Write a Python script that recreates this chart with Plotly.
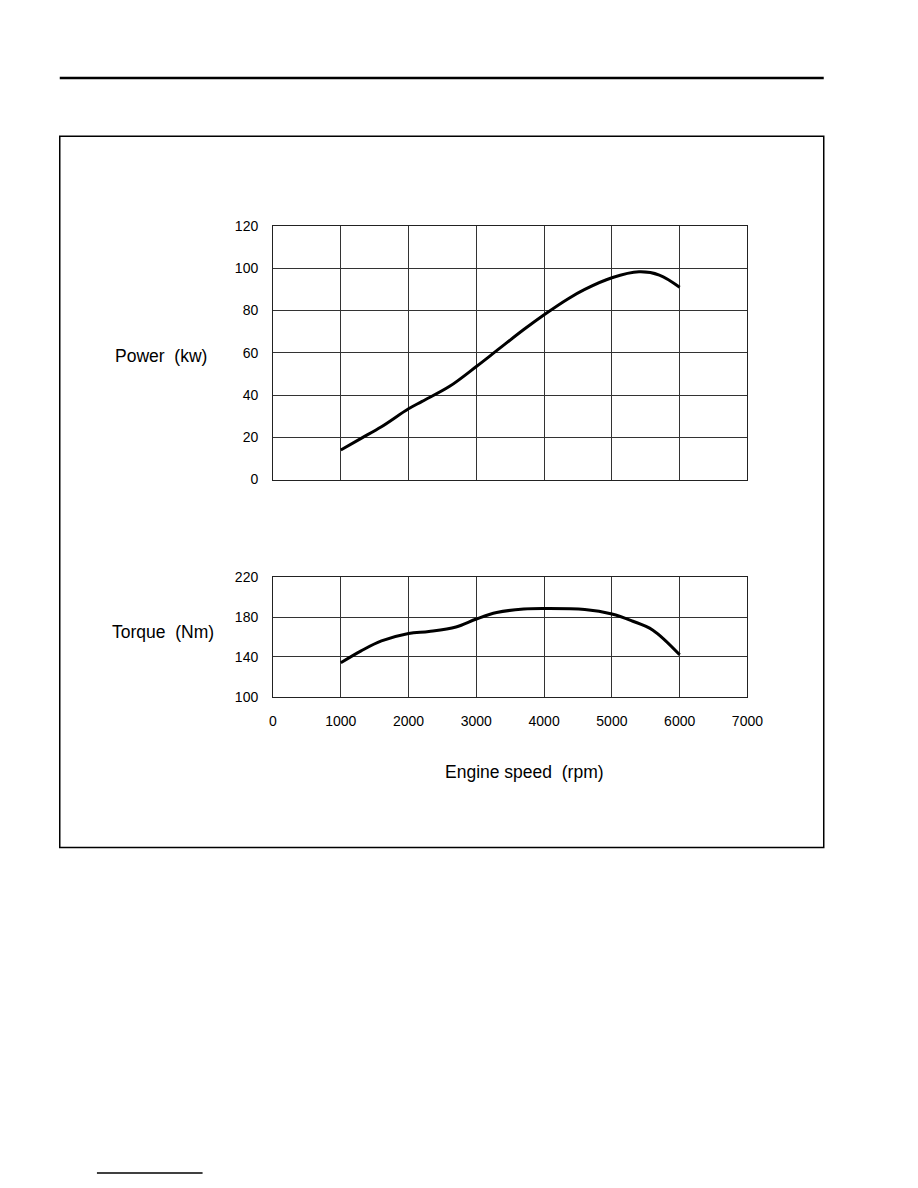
import plotly.graph_objects as go

# engine speed (rpm) and curves
power_rpm = [1000, 1300, 1600, 2000, 2200, 2600, 3000, 3300, 3700, 4000, 4350, 4600, 5000, 5400, 5700, 6000]
power_kw = [14, 19.5, 25, 33.5, 37, 44, 53.5, 61, 71, 78, 85.5, 90, 95.5, 98.3, 96.8, 91]

torque_rpm = [1000, 1300, 1600, 2000, 2300, 2700, 3000, 3300, 3700, 4000, 4600, 5000, 5300, 5600, 6000]
torque_nm = [134, 146, 156, 163.5, 165.5, 170, 178, 184.5, 188, 188.5, 187.5, 183, 176, 167, 142]

x_ticks = [0, 1000, 2000, 3000, 4000, 5000, 6000, 7000]
power_ticks = [0, 20, 40, 60, 80, 100, 120]
torque_ticks = [100, 140, 180, 220]

W, H = 918, 1188


def px(x):
    return x / W


def py(y):
    return 1 - y / H


tick_font = dict(family="Liberation Sans, Arial, sans-serif", size=14, color="black")
label_font = dict(family="Liberation Sans, Arial, sans-serif", size=17.5, color="black")

fig = go.Figure()
fig.add_trace(go.Scatter(x=power_rpm, y=power_kw, mode="lines", line=dict(color="black", width=3, shape="spline"),
                         xaxis="x", yaxis="y", showlegend=False))
fig.add_trace(go.Scatter(x=torque_rpm, y=torque_nm, mode="lines", line=dict(color="black", width=3, shape="spline"),
                         xaxis="x2", yaxis="y2", showlegend=False))

axis_common = dict(showline=True, mirror=True, linecolor="#222", linewidth=1,
                   showgrid=True, gridcolor="#333", gridwidth=1, zeroline=False,
                   ticks="", tickfont=tick_font)

fig.update_layout(
    width=W, height=H,
    margin=dict(l=0, r=0, t=0, b=0),
    paper_bgcolor="white", plot_bgcolor="white",
    xaxis=dict(domain=[px(275), px(760)], range=[0, 7000], tickvals=x_ticks[1:-1],
               showticklabels=False, anchor="y", **axis_common),
    yaxis=dict(domain=[py(478), py(221)], range=[0, 120], tickvals=power_ticks,
               anchor="x", ticklabelstandoff=11, **axis_common),
    xaxis2=dict(domain=[px(275), px(760)], range=[0, 7000], tickvals=x_ticks,
                anchor="y2", ticklabelstandoff=12, **axis_common),
    yaxis2=dict(domain=[py(698), py(577)], range=[100, 220], tickvals=torque_ticks,
                anchor="x2", ticklabelstandoff=11, **axis_common),
)

fig.add_annotation(text="Power  (kw)", x=px(161), y=py(353), xref="paper", yref="paper",
                   xanchor="center", yanchor="middle", showarrow=False, font=label_font)
fig.add_annotation(text="Torque  (Nm)", x=px(163), y=py(633), xref="paper", yref="paper",
                   xanchor="center", yanchor="middle", showarrow=False, font=label_font)
fig.add_annotation(text="Engine speed  (rpm)", x=px(532), y=py(774), xref="paper", yref="paper",
                   xanchor="center", yanchor="middle", showarrow=False, font=label_font)

# page decorations: header rule, frame, footer rule
fig.add_shape(type="line", xref="paper", yref="paper", x0=px(57), x1=px(838), y0=py(71), y1=py(71),
              line=dict(color="black", width=2.5))
fig.add_shape(type="rect", xref="paper", yref="paper", x0=px(57), x1=px(838), y0=py(851), y1=py(130),
              line=dict(color="black", width=1.5))
fig.add_shape(type="line", xref="paper", yref="paper", x0=px(95), x1=px(203), y0=py(1181), y1=py(1181),
              line=dict(color="black", width=1.5))

# drop the default body margin so the 918x1188 figure fills the window exactly
page_css = ("document.documentElement.style.overflow='hidden';"
            "document.body.style.margin='0';document.body.style.overflow='hidden';")

fig.write_html("out.html", config={"displayModeBar": False}, post_script=page_css)
